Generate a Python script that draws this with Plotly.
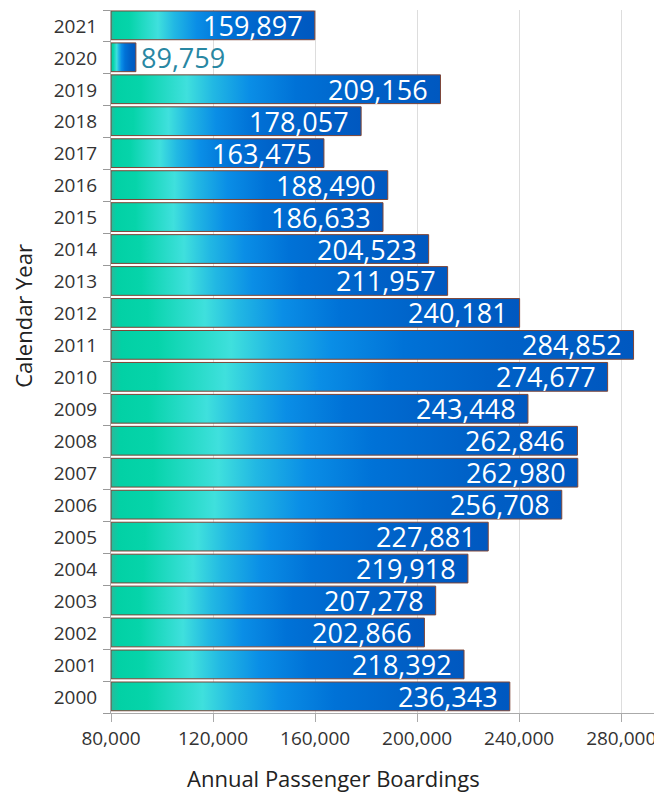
import plotly.graph_objects as go

years = list(range(2000, 2022))
boardings = [236343, 218392, 202866, 207278, 219918, 227881, 256708, 262980,
             262846, 243448, 274677, 284852, 240181, 211957, 204523, 186633,
             188490, 163475, 178057, 209156, 89759, 159897]
x_ticks = [80000, 120000, 160000, 200000, 240000, 280000]
x_range = [80000, 296000]

gradient = [[0.0, "#2bb99b"], [0.02, "#02d1a5"], [0.09, "#06d4aa"],
            [0.23, "#3fe0dd"], [0.31, "#22b8e3"], [0.42, "#0a8ee6"],
            [0.56, "#0072d7"], [0.76, "#0062c8"], [1.0, "#0058c0"]]

fig = go.Figure()
half = 0.45
for i, (yr, v) in enumerate(zip(years, boardings)):
    x0 = x_range[0]
    fig.add_trace(go.Scatter(
        x=[x0, v, v, x0, x0],
        y=[i - half + 0.02, i - half + 0.02, i + half + 0.02, i + half + 0.02, i - half + 0.02],
        mode="lines", fill="toself",
        fillgradient=dict(type="horizontal", colorscale=gradient),
        line=dict(color="#7e4536", width=1),
        hoverinfo="text", text=f"{yr}: {v:,}", showlegend=False,
    ))

px_per_unit = 551 / (x_range[1] - x_range[0])
for i, v in enumerate(boardings):
    bar_px = (v - x_range[0]) * px_per_unit
    inside = bar_px > 115
    fig.add_annotation(
        x=v, y=i + 0.02, xref="x", yref="y", text=f"{v:,}", showarrow=False,
        xanchor="right" if inside else "left", yanchor="middle",
        xshift=-10 if inside else 3,
        font=dict(family="Open Sans", size=27, color="white" if inside else "#2887a3"),
    )

fig.add_annotation(xref="paper", yref="paper", x=0.403, y=0, yanchor="middle",
                   yshift=-65, text="Annual Passenger Boardings", showarrow=False,
                   font=dict(family="Open Sans", size=22, color="#222"))
fig.add_annotation(xref="paper", yref="paper", x=0, y=0.565, xanchor="center",
                   xshift=-88, textangle=-90, text="Calendar Year", showarrow=False,
                   font=dict(family="Open Sans", size=22, color="#222"))

fig.update_layout(
    width=654, height=784,
    margin=dict(l=103, r=0, t=2, b=79),
    paper_bgcolor="white", plot_bgcolor="white",
    font=dict(family="Open Sans", color="#333"),
    xaxis=dict(range=x_range, tickvals=x_ticks,
               ticktext=[f"{t:,}" for t in x_ticks],
               showgrid=True, gridcolor="#dddddd", gridwidth=1,
               ticks="outside", ticklen=8, tickcolor="#aaaaaa",
               showline=True, linecolor="#aaaaaa", zeroline=False,
               automargin=False,
               tickfont=dict(size=19, color="#333")),
    yaxis=dict(range=[-0.5, len(years) - 0.5],
               tickvals=list(range(len(years))), ticktext=[str(y) for y in years],
               ticks="", showgrid=False, zeroline=False,
               showline=True, linecolor="#aaaaaa",
               ticklabelstandoff=9, automargin=False,
               minor=dict(tickvals=[k - 0.5 for k in range(len(years) + 1)],
                          ticks="outside", ticklen=7, tickcolor="#999999", showgrid=False),
               tickfont=dict(size=19, color="#333")),
)

fig.write_html("out.html")
